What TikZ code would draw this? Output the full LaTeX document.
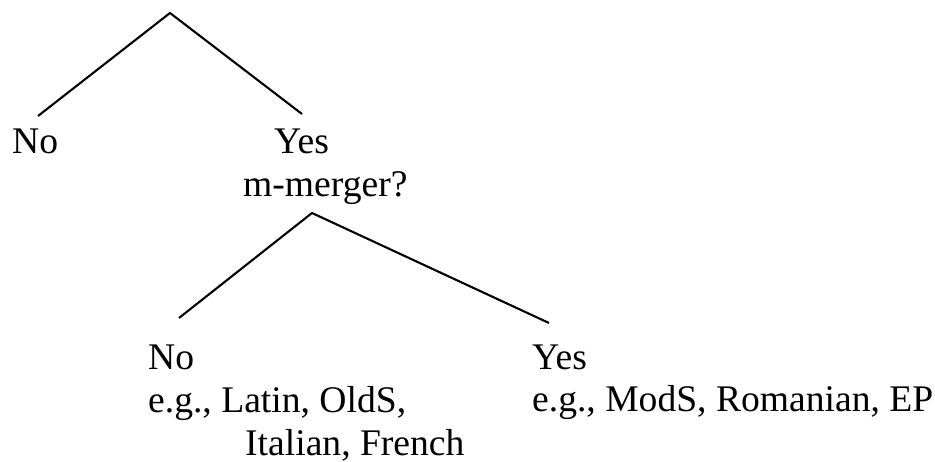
\documentclass[tikz,border=0pt]{standalone}
\usepackage{fontspec}
\setmainfont{Liberation Serif}
\usetikzlibrary{positioning}

\begin{document}
\begin{tikzpicture}[x=1pt,y=-1pt,
    every node/.style={inner sep=0pt,anchor=base west,font=\fontsize{37.6}{43}\selectfont},
    branch/.style={line width=2.1pt}]
	\useasboundingbox (0,0) rectangle (935,462);
	% upper split
	\coordinate (top) at (170,13);
	\node (no1) at (12,154) {No};
	\node (yes1) at (274,154) {Yes};
	\node (mm) at (243,197) {m-merger?};
	\coordinate (no1end) at (38,116);
	\coordinate (yes1end) at (302,114);
	\draw[branch] (no1end) -- (top) -- (yes1end);
	% lower split
	\coordinate (mmtop) at (312,213);
	\node (no2) at (148,370) {No};
	\node (eglat) at (148,413) {e.g., Latin, OldS,};
	\node (itfr) at (245,455) {Italian, French};
	\node (yes2) at (532,370) {Yes};
	\node (egmod) at (532,412) {e.g., ModS, Romanian, EP};
	\coordinate (no2end) at (179,318);
	\coordinate (yes2end) at (549,323);
	\draw[branch] (no2end) -- (mmtop) -- (yes2end);
\end{tikzpicture}
\end{document}
